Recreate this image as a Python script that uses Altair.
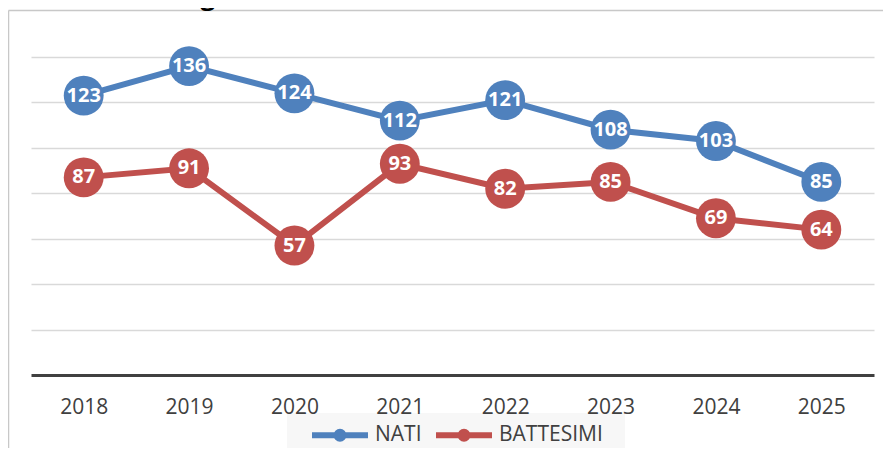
import altair as alt
import pandas as pd

years = ["2018", "2019", "2020", "2021", "2022", "2023", "2024", "2025"]
nati = [123, 136, 124, 112, 121, 108, 103, 85]
battesimi = [87, 91, 57, 93, 82, 85, 69, 64]
series = ["NATI", "BATTESIMI"]
colors = ["#4F81BD", "#C0504D"]
title_text = "italiani che scelgono di non battezzarli."

rows = []
for y, v in zip(years, nati):
    rows.append({"anno": y, "serie": "NATI", "valore": v})
for y, v in zip(years, battesimi):
    rows.append({"anno": y, "serie": "BATTESIMI", "valore": v})
df = pd.DataFrame(rows)
deco = pd.DataFrame({"t": [title_text]})

FONT = "Open Sans"
W, H = 843, 318

xenc = alt.X("anno:O", title=None, sort=years,
             scale=alt.Scale(type="point", padding=0.5),
             axis=alt.Axis(labelAngle=0, labelFontSize=21, labelFont=FONT,
                           labelColor="#404040", ticks=False, domainColor="#404040",
                           domainWidth=3, labelPadding=21, grid=False, zindex=1))
yenc = alt.Y("valore:Q", title=None,
             scale=alt.Scale(domain=[0, 140], nice=False, zero=True),
             axis=alt.Axis(labels=False, ticks=False, domain=False, grid=True,
                           values=[20, 40, 60, 80, 100, 120, 140],
                           gridColor="#d9d9d9", gridWidth=1.5))
cscale = alt.Scale(domain=series, range=colors)

legend_path = ("M-2.8,0 H2.8 M-0.35,0 A0.35,0.35 0 1,1 0.35,0 "
               "A0.35,0.35 0 1,1 -0.35,0")
legend = alt.Legend(title=None, orient="none", direction="horizontal",
                    legendX=296, legendY=365, symbolType=legend_path,
                    symbolSize=400, symbolStrokeWidth=6, labelOffset=22,
                    columnPadding=2, labelFont=FONT, labelFontSize=21,
                    labelColor="#404040", padding=0)

# background box of legend (decoration)
legend_box = alt.Chart(deco).mark_rect(color="#f7f7f7").encode(
    x=alt.value(256), x2=alt.value(594), y=alt.value(356), y2=alt.value(401))

# chart frame (decoration)
frame_top = alt.Chart(deco).mark_rule(color="#c8c8c8", strokeWidth=1.5).encode(
    x=alt.value(-22.5), x2=alt.value(900), y=alt.value(-46.5))
frame_left = alt.Chart(deco).mark_rule(color="#c8c8c8", strokeWidth=1.5).encode(
    x=alt.value(-22.5), y=alt.value(-46.5), y2=alt.value(500))
title = alt.Chart(deco).mark_text(align="left", baseline="alphabetic", font=FONT,
                                  fontSize=26, fontWeight="bold", color="#000000").encode(
    x=alt.value(-31), y=alt.value(-52), text="t:N")

base = alt.Chart(df)
lines = base.mark_line(strokeWidth=6).encode(
    x=xenc, y=yenc,
    color=alt.Color("serie:N", scale=cscale, legend=legend),
    detail="serie:N")
points = base.mark_point(filled=True, size=1590, opacity=1).encode(
    x=xenc, y=yenc, color=alt.Color("serie:N", scale=cscale, legend=None))
labels = base.mark_text(color="white", fontWeight="bold", fontSize=20, font=FONT,
                        align="center", baseline="middle").encode(
    x=xenc, y=yenc, text="valore:Q")

chart = alt.layer(legend_box, frame_top, frame_left, title, lines, points, labels).properties(
    width=W, height=H,
    autosize=alt.AutoSizeParams(type="none"),
    padding={"left": 23, "top": 49, "right": 9, "bottom": 73},
    background="white",
).configure_view(stroke=None)

chart.save("out.html", embed_options={"renderer": "svg", "actions": False})
